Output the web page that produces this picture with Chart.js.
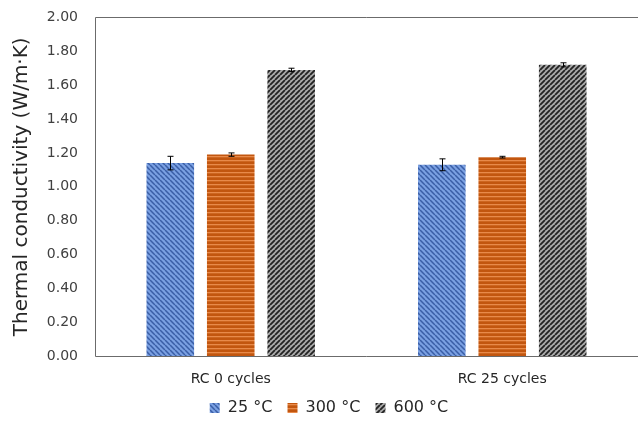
<!DOCTYPE html>
<html lang="en">
<head>
    <meta charset="UTF-8">
    <title>Thermal conductivity</title>
    <script src="https://cdn.jsdelivr.net/npm/chart.js"></script>
    <style>
        body { margin: 0; background: white; overflow: hidden; }
        .box { width: 638px; height: 424px; }
    </style>
</head>
<body>
    <div class="box"><canvas id="chart"></canvas></div>

    <script>
        // Data
        const categories = ['RC 0 cycles', 'RC 25 cycles'];
        const seriesNames = ['25 °C', '300 °C', '600 °C'];
        const values25 = [1.14, 1.13];
        const values300 = [1.19, 1.175];
        const values600 = [1.69, 1.72];
        const err25 = [0.04, 0.035];
        const err300 = [0.01, 0.005];
        const err600 = [0.01, 0.012];
        const yTicks = [0, 0.2, 0.4, 0.6, 0.8, 1.0, 1.2, 1.4, 1.6, 1.8, 2.0];

        // hatch patterns
        function makePattern(kind) {
            const c = document.createElement('canvas');
            const x = c.getContext('2d');
            if (kind === 'blue') {
                c.width = 5; c.height = 5;
                x.fillStyle = '#7aa0e2';
                x.fillRect(0, 0, 5, 5);
                x.strokeStyle = '#3a5ea6';
                x.lineWidth = 1.5;
                x.beginPath();
                for (let i = -5; i <= 10; i += 5) { x.moveTo(i, 0); x.lineTo(i + 5, 5); }
                x.stroke();
            } else if (kind === 'orange') {
                c.width = 4; c.height = 4;
                x.fillStyle = '#c2560f';
                x.fillRect(0, 0, 4, 4);
                x.fillStyle = '#e88a4a';
                x.fillRect(0, 0, 4, 1.3);
            } else {
                c.width = 5; c.height = 5;
                x.fillStyle = '#aaaaaa';
                x.fillRect(0, 0, 5, 5);
                x.strokeStyle = '#222';
                x.lineWidth = 1.8;
                x.beginPath();
                for (let i = -5; i <= 10; i += 5) { x.moveTo(i, 5); x.lineTo(i + 5, 0); }
                x.stroke();
            }
            return x.createPattern(c, 'repeat');
        }
        const fills = [makePattern('blue'), makePattern('orange'), makePattern('black')];
        const errors = [err25, err300, err600];

        // error bars + frame (right side runs off the picture in the original)
        const extras = {
            id: 'extras',
            afterDatasetsDraw(chart) {
                const ctx = chart.ctx;
                const y = chart.scales.y;
                ctx.save();
                ctx.strokeStyle = '#000';
                ctx.lineWidth = 1;
                chart.data.datasets.forEach((ds, i) => {
                    const meta = chart.getDatasetMeta(i);
                    meta.data.forEach((bar, j) => {
                        const v = ds.data[j], e = errors[i][j];
                        const top = y.getPixelForValue(v + e);
                        const bot = y.getPixelForValue(v - e);
                        const cx = Math.round(bar.x) + 0.5;
                        ctx.beginPath();
                        ctx.moveTo(cx, top); ctx.lineTo(cx, bot);
                        ctx.moveTo(cx - 3, top); ctx.lineTo(cx + 3, top);
                        ctx.moveTo(cx - 3, bot); ctx.lineTo(cx + 3, bot);
                        ctx.stroke();
                    });
                });
                const a = chart.chartArea;
                const l = Math.round(a.left) + 0.5, t = Math.round(a.top) + 0.5, b = Math.round(a.bottom) + 0.5;
                ctx.strokeStyle = '#6b6b6b';
                ctx.beginPath();
                ctx.moveTo(chart.width, t); ctx.lineTo(l, t); ctx.lineTo(l, b); ctx.lineTo(chart.width, b);
                ctx.stroke();
                ctx.restore();
            }
        };

        const font = "'DejaVu Sans', Verdana, sans-serif";

        new Chart(document.getElementById('chart'), {
            type: 'bar',
            data: {
                labels: categories,
                datasets: [
                    { label: seriesNames[0], data: values25, backgroundColor: fills[0] },
                    { label: seriesNames[1], data: values300, backgroundColor: fills[1] },
                    { label: seriesNames[2], data: values600, backgroundColor: fills[2] }
                ]
            },
            options: {
                responsive: true,
                maintainAspectRatio: false,
                animation: false,
                categoryPercentage: 0.668,
                barPercentage: 0.787,
                layout: { padding: { top: 6, right: -4, bottom: -2, left: 16 } },
                plugins: {
                    tooltip: { enabled: false },
                    legend: {
                        position: 'bottom',
                        labels: {
                            color: '#262626',
                            font: { family: font, size: 16 },
                            boxWidth: 10,
                            boxHeight: 10,
                            padding: 5,
                            generateLabels(chart) {
                                const items = Chart.defaults.plugins.legend.labels.generateLabels(chart);
                                // a little extra room after the first two entries
                                items.forEach((it, i) => { if (i < items.length - 1) it.text += '\u00a0\u00a0'; it.lineWidth = 0; });
                                return items;
                            }
                        }
                    }
                },
                scales: {
                    x: {
                        grid: { display: false },
                        border: { display: false },
                        ticks: { color: '#262626', font: { family: font, size: 14 }, padding: 7 }
                    },
                    y: {
                        min: 0,
                        max: 2,
                        afterBuildTicks(s) { s.ticks = yTicks.map(v => ({ value: v })); },
                        afterFit(s) { s.width = 79; },
                        grid: { display: false },
                        border: { display: false },
                        ticks: {
                            color: '#404040',
                            font: { family: font, size: 14 },
                            padding: 9,
                            callback: v => Number(v).toFixed(2)
                        },
                        title: {
                            display: true,
                            text: 'Thermal conductivity (W/m·K)',
                            color: '#262626',
                            font: { family: font, size: 20 },
                            padding: { top: -6, bottom: 0 }
                        }
                    }
                }
            },
            plugins: [extras]
        });
    </script>
</body>
</html>
